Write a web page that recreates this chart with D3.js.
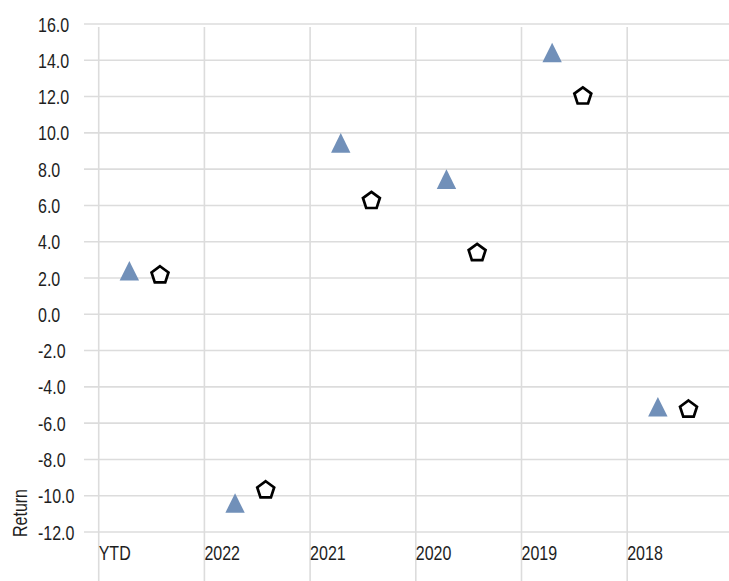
<!DOCTYPE html>
<html>
<head>
<meta charset="utf-8">
<script src="https://cdn.jsdelivr.net/npm/d3@7"></script>
<style>
  body { margin: 0; background: #fff; }
  text { font-family: "Liberation Sans", Arial, sans-serif; font-size: 20px; fill: #1e1e1e; }
</style>
</head>
<body>
<svg id="chart" width="729" height="581"></svg>
<script>
// categories and series
const categories = ['YTD', '2022', '2021', '2020', '2019', '2018'];
const fundReturns = [2.4, -10.4, 9.45, 7.45, 14.43, -5.1];      // triangles
const benchmarkReturns = [2.2, -9.65, 6.3, 3.43, 12.06, -5.2];  // pentagons
const yTicks = d3.range(-12, 17, 2);

const width = 729, height = 581;
const narrow = 0.8; // squeeze Liberation Sans into a narrow face
const svg = d3.select('#chart');

// scales
const x = d3.scaleBand()
  .domain(categories)
  .range([98.7, 98.7 + 6 * 105.7])
  .padding(0);

const y = d3.scaleLinear()
  .domain([-12, 16])
  .range([532, 24]);

// horizontal gridlines
svg.append('g')
  .selectAll('line')
  .data(yTicks)
  .enter().append('line')
  .attr('x1', 84).attr('x2', width)
  .attr('y1', d => y(d)).attr('y2', d => y(d))
  .attr('stroke', '#dcdcdc')
  .attr('stroke-width', 1.6);

// vertical gridlines at the start of each band
svg.append('g')
  .selectAll('line')
  .data(categories)
  .enter().append('line')
  .attr('x1', d => x(d)).attr('x2', d => x(d))
  .attr('y1', 27).attr('y2', height)
  .attr('stroke', '#dcdcdc')
  .attr('stroke-width', 1.6);

// y tick labels, left aligned
svg.append('g')
  .selectAll('text')
  .data(yTicks)
  .enter().append('text')
  .attr('transform', d => `translate(38,${y(d) + 7.5}) scale(${narrow},1)`)
  .text(d => d.toFixed(1));

// category labels
svg.append('g')
  .selectAll('text')
  .data(categories)
  .enter().append('text')
  .attr('transform', d => `translate(${x(d)},559.5) scale(${narrow},1)`)
  .text(d => d);

// axis title
svg.append('text')
  .attr('transform', `translate(27,537) rotate(-90) scale(${narrow},1)`)
  .style('text-anchor', 'start')
  .text('Return');

// marker shapes
const tri = {
  draw(ctx) {
    const h = 9.8, w = 9.7;
    ctx.moveTo(0, -h);
    ctx.lineTo(w, h);
    ctx.lineTo(-w, h);
    ctx.closePath();
  }
};
const penta = {
  draw(ctx) {
    const r = 8.9;
    for (let i = 0; i < 5; i++) {
      const a = -Math.PI / 2 + i * 2 * Math.PI / 5;
      const px = r * Math.cos(a), py = r * Math.sin(a) + 0.8;
      if (i === 0) ctx.moveTo(px, py); else ctx.lineTo(px, py);
    }
    ctx.closePath();
  }
};

const bw = x.bandwidth();

svg.append('g')
  .selectAll('path')
  .data(fundReturns)
  .enter().append('path')
  .attr('d', d3.symbol().type(tri)())
  .attr('transform', (d, i) => `translate(${x(categories[i]) + bw * 0.29},${y(d)})`)
  .attr('fill', '#7190b9');

svg.append('g')
  .selectAll('path')
  .data(benchmarkReturns)
  .enter().append('path')
  .attr('d', d3.symbol().type(penta)())
  .attr('transform', (d, i) => `translate(${x(categories[i]) + bw * 0.58},${y(d)})`)
  .attr('fill', '#fff')
  .attr('stroke', '#000')
  .attr('stroke-width', 2.7)
  .attr('stroke-linejoin', 'miter');
</script>
</body>
</html>
